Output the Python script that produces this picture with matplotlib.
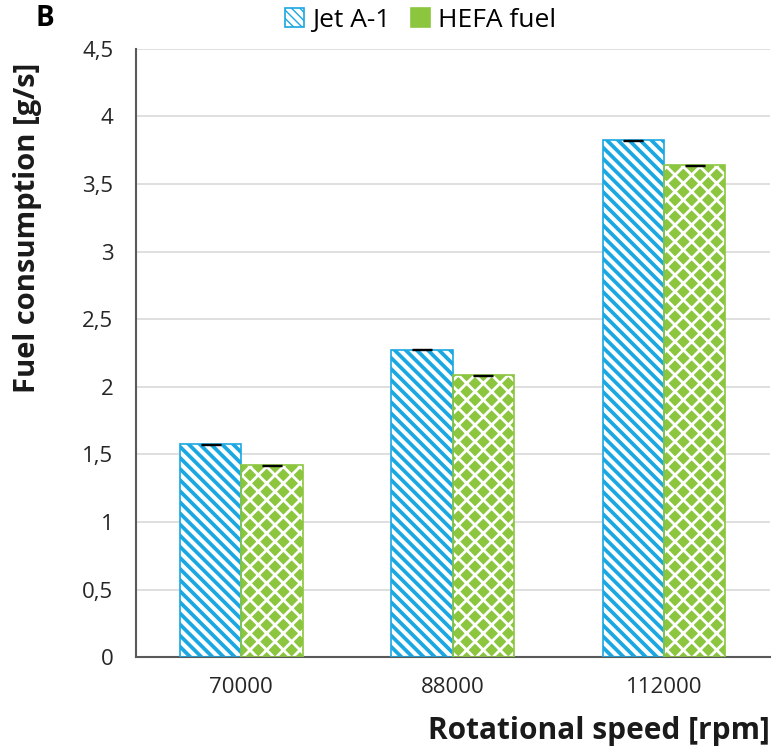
import numpy as np
import matplotlib
matplotlib.use('Agg')
import matplotlib.pyplot as plt
from matplotlib.patches import Patch

plt.rcParams['font.family'] = ['Open Sans', 'DejaVu Sans']

# Data
speeds = ['70000', '88000', '112000']
jet_a1 = [1.575, 2.275, 3.825]
hefa = [1.42, 2.085, 3.64]
jet_err = [0.004, 0.004, 0.004]
hefa_err = [0.004, 0.004, 0.004]
yticks = [0, 0.5, 1, 1.5, 2, 2.5, 3, 3.5, 4, 4.5]
ytick_labels = ['0', '0,5', '1', '1,5', '2', '2,5', '3', '3,5', '4', '4,5']

blue = '#1ba8e2'
green = '#8cc63f'

fig = plt.figure(figsize=(7.79, 7.52), dpi=100)
ax = fig.add_axes([0.174, 0.126, 0.814, 0.809])

x = np.arange(len(speeds))
w = 0.29

# Jet A-1: blue diagonal stripes on white
with plt.rc_context({'hatch.linewidth': 2.7}):
    ax.bar(x - w / 2, jet_a1, w, facecolor='white', edgecolor=blue, hatch='\\\\\\', linewidth=0, zorder=2)
# HEFA: green diamonds (white cross-hatch over green)
with plt.rc_context({'hatch.linewidth': 2.0}):
    ax.bar(x + w / 2, hefa, w, facecolor=green, edgecolor='white', hatch='xx', linewidth=0, zorder=2)
ax.bar(x - w / 2, jet_a1, w, fill=False, edgecolor=blue, linewidth=1.2, zorder=3)
ax.bar(x + w / 2, hefa, w, fill=False, edgecolor=green, linewidth=1.2, zorder=3)

ax.errorbar(x - w / 2, jet_a1, yerr=jet_err, fmt='none', ecolor='black', capsize=7, elinewidth=1, zorder=4)
ax.errorbar(x + w / 2, hefa, yerr=hefa_err, fmt='none', ecolor='black', capsize=7, elinewidth=1, zorder=4)

ax.set_xlim(-0.5, 2.5)
ax.set_ylim(0, 4.5)
ax.set_yticks(yticks)
ax.set_yticklabels(ytick_labels)
ax.set_xticks(x)
ax.set_xticklabels(speeds)
ax.tick_params(axis='both', length=0, labelsize=16, colors='#262626', pad=14)
ax.tick_params(axis='y', pad=16)
ax.yaxis.grid(True, color='#d9d9d9', linewidth=1.2, zorder=0)
ax.set_axisbelow(True)
for s in ['top', 'right']:
    ax.spines[s].set_visible(False)
for s in ['bottom', 'left']:
    ax.spines[s].set_color('#595959')
    ax.spines[s].set_linewidth(1.5)

ax.set_ylabel('Fuel consumption [g/s]', fontsize=21, fontweight='bold', color='#1a1a1a')
ax.yaxis.set_label_coords(-0.148, 0.705)
fig.text(0.988, 0.008, 'Rotational speed [rpm]', fontsize=21.5, fontweight='bold',
         color='#1a1a1a', ha='right', va='bottom')
fig.text(0.058, 0.975, 'B', fontsize=20, fontweight='bold', ha='center', va='center')

handles = [Patch(facecolor='white', edgecolor=blue, hatch='\\\\\\\\', linewidth=1.2),
           Patch(facecolor=green, edgecolor='white', hatch='xxx', linewidth=1.2)]
leg = fig.legend(handles, ['Jet A-1', 'HEFA fuel'], loc='center', bbox_to_anchor=(0.54, 0.973),
                 ncol=2, frameon=False, fontsize=19, handlelength=0.7, handleheight=0.7,
                 handletextpad=0.3, columnspacing=0.8)
leg.legend_handles[1].set_edgecolor(green)

fig.savefig('out.png', dpi=100)
